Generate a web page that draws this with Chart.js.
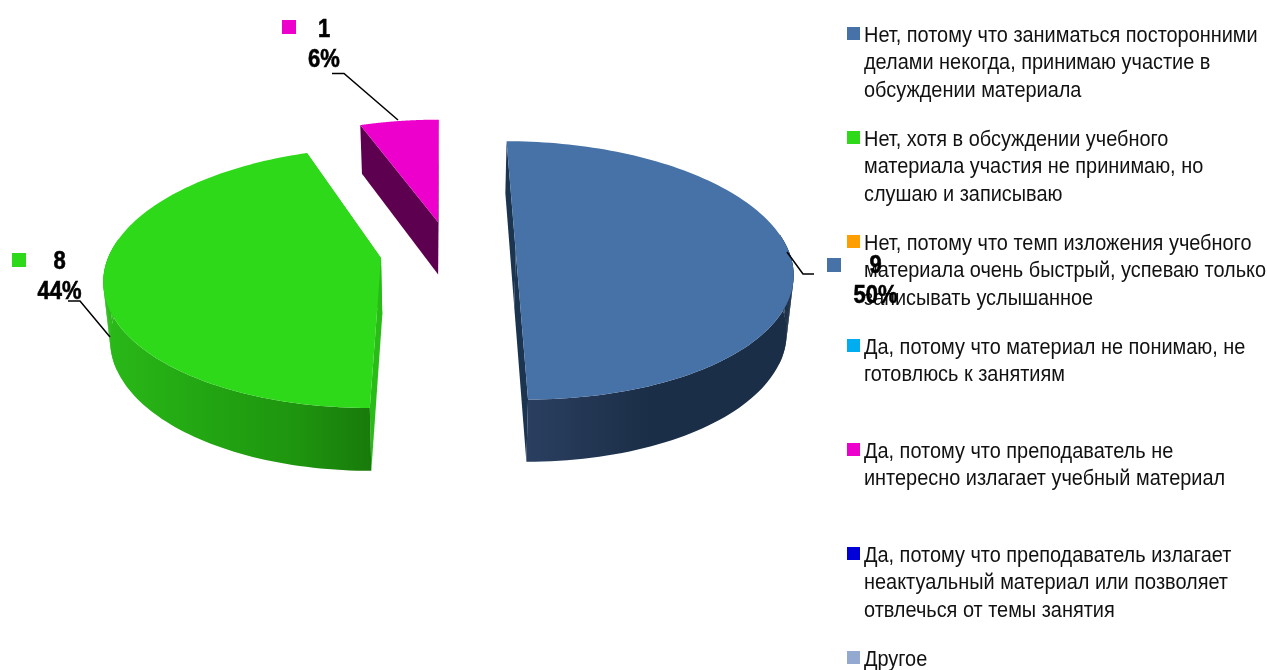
<!DOCTYPE html>
<html>
<head>
<meta charset="utf-8">
<style>
  body { margin: 0; background: #fff; }
  canvas { display: block; }
</style>
<script src="https://cdn.jsdelivr.net/npm/chart.js@4"></script>
</head>
<body>
<canvas id="chart" width="1267" height="670"></canvas>
<script>
// data
const categories = [
  ['Нет, потому что заниматься посторонними', 'делами некогда, принимаю участие в', 'обсуждении материала'],
  ['Нет, хотя в обсуждении учебного', 'материала участия не принимаю, но', 'слушаю и записываю'],
  ['Нет, потому что темп изложения учебного', 'материала очень быстрый, успеваю только', 'записывать услышанное'],
  ['Да, потому что материал не понимаю, не', 'готовлюсь к занятиям'],
  ['Да, потому что преподаватель не', 'интересно излагает учебный материал'],
  ['Да, потому что преподаватель излагает', 'неактуальный материал или позволяет', 'отвлечься от темы занятия'],
  ['Другое']
];
const values = [9, 8, 0, 0, 1, 0, 0];
const colors = ['#4672a8', '#2dd919', '#ff9e00', '#00aeef', '#ee00cc', '#0000d8', '#93a9cf'];

// --- pie projection, fitted by eye ---
const rx = 273, ry = 127.5, persp = -0.15, depth = 57, shrink = 0.98;
const vanishX = 445, vanishY = -600;
// exploded position of each visible slice and how the side faces are shaded
const sliceGeom = {
  0: { ax: 515.7, ay: 251, fx: 1, fy: 0.99, wall: '#1b3450', rim: [[528, '#2a3f60'], [650, '#1b2e47'], [790, '#1b2e47']] },
  1: { ax: 381, ay: 258, fx: 1, fy: 1, wall: '#29bb16', rim: [[108, '#2ab818'], [210, '#22a512'], [300, '#1e940f'], [371, '#187a0a']] },
  4: { ax: 438, ay: 222, fx: 0.96, fy: 0.923, wall: '#5e0050', rim: [[360, '#5e0050'], [438, '#5e0050']] }
};
const legendX = 847, legendTop = 27, legendStep = 104, lineH = 27.6;
const valueLabels = {
  0: { sq: [827, 258], x: 875.5, y: 266.5, line: [[787, 252], [803, 274], [814, 274]] },
  1: { sq: [12, 253], x: 59.5, y: 262, line: [[68, 301], [80, 301], [110, 337]] },
  4: { sq: [282, 20], x: 324, y: 30, line: [[332, 73.5], [344, 73.5], [398, 120]] }
};
const FONT = '"Liberation Sans", sans-serif';

// project an angle on the slice rim to the screen
function topPoint(g, t) {
  const u = Math.cos(t), v = Math.sin(t), w = 1 + persp * v;
  const k = (g.ax - vanishX) / (g.ay - vanishY);
  const dy = ry * v / w * g.fy;
  return [g.ax + rx * u / w * g.fx + k * dy, g.ay + dy, w];
}
function lower(p, w, g) {
  return [vanishX + (p[0] - vanishX) * shrink, p[1] + depth / Math.pow(w, 0.6) * g.fy];
}

function polygon(ctx, pts, fill) {
  ctx.beginPath();
  pts.forEach((p, i) => i ? ctx.lineTo(p[0], p[1]) : ctx.moveTo(p[0], p[1]));
  ctx.closePath();
  ctx.fillStyle = fill;
  ctx.fill();
}

function drawSlice(ctx, el, g) {
  const start = el.startAngle, end = el.endAngle;
  const apex = [g.ax, g.ay];
  const apexLow = lower(apex, 1, g);
  const steps = 120;
  const rimTop = [], rimLow = [];
  for (let i = 0; i <= steps; i++) {
    const t = start + (end - start) * i / steps;
    const p = topPoint(g, t);
    rimTop.push([p[0], p[1], Math.sin(t)]);
    rimLow.push(lower(p, p[2], g));
  }

  // cut faces
  polygon(ctx, [apex, rimTop[0], rimLow[0], apexLow], g.wall);
  polygon(ctx, [apex, rimTop[steps], rimLow[steps], apexLow], g.wall);

  // outer face, only the part turned to the viewer
  const front = [], back = [];
  for (let i = 0; i <= steps; i++) {
    if (rimTop[i][2] > -0.15) { front.push(rimTop[i]); back.unshift(rimLow[i]); }
  }
  if (front.length > 1) {
    const grad = ctx.createLinearGradient(g.rim[0][0], 0, g.rim[g.rim.length - 1][0], 0);
    const span = g.rim[g.rim.length - 1][0] - g.rim[0][0];
    g.rim.forEach(s => grad.addColorStop((s[0] - g.rim[0][0]) / span, s[1]));
    polygon(ctx, front.concat(back), grad);
    // fill the silhouette where the side runs from the top rim to the lower rim
    for (let i = 0; i < steps; i++) {
      const v = rimTop[i][2];
      if (v > -0.15 && v < 0.4) polygon(ctx, [rimTop[i], rimTop[i + 1], rimLow[i + 1], rimLow[i]], grad);
    }
  }

  // top face
  polygon(ctx, [apex].concat(rimTop), el.options.backgroundColor);
}

// the reference font is narrower than anything installed, so squeeze it
function narrowText(ctx, s, x, y, sx, heavy) {
  ctx.save();
  ctx.translate(x, y);
  ctx.scale(sx, 1);
  if (heavy) {
    ctx.strokeStyle = ctx.fillStyle;
    ctx.lineWidth = 0.6;
    ctx.strokeText(s, 0, 0);
  }
  ctx.fillText(s, 0, 0);
  ctx.restore();
}

const pie3d = {
  id: 'pie3d',
  beforeDatasetsDraw(chart) {
    const ctx = chart.ctx;
    const arcs = chart.getDatasetMeta(0).data;
    arcs.forEach((el, i) => {
      if (values[i] > 0) drawSlice(ctx, el, sliceGeom[i]);
    });
    return false;
  },
  afterDraw(chart) {
    const ctx = chart.ctx;
    const total = values.reduce((a, b) => a + b, 0);
    ctx.save();

    // legend
    ctx.textBaseline = 'middle';
    ctx.textAlign = 'left';
    ctx.font = '22px ' + FONT;
    categories.forEach((lines, i) => {
      const y = legendTop + legendStep * i;
      ctx.fillStyle = colors[i];
      ctx.fillRect(legendX, y, 13, 13);
      ctx.fillStyle = '#111';
      lines.forEach((s, n) => narrowText(ctx, s, legendX + 17, y + 8.5 + lineH * n, 0.905));
    });

    // value labels with leader lines
    Object.keys(valueLabels).forEach(key => {
      const l = valueLabels[key];
      ctx.fillStyle = colors[key];
      ctx.fillRect(l.sq[0], l.sq[1], 14, 14);
      ctx.fillStyle = '#000';
      ctx.textAlign = 'center';
      ctx.font = 'bold 25px ' + FONT;
      narrowText(ctx, String(values[key]), l.x, l.y, 0.88, true);
      narrowText(ctx, Math.round(values[key] / total * 100) + '%', l.x, l.y + 30, 0.88, true);
      ctx.beginPath();
      l.line.forEach((p, n) => n ? ctx.lineTo(p[0], p[1]) : ctx.moveTo(p[0], p[1]));
      ctx.strokeStyle = '#000';
      ctx.lineWidth = 1.5;
      ctx.stroke();
    });
    ctx.restore();
  }
};

new Chart(document.getElementById('chart'), {
  type: 'pie',
  data: {
    labels: categories.map(c => c.join(' ')),
    datasets: [{ data: values, backgroundColor: colors, borderWidth: 0 }]
  },
  options: {
    responsive: false,
    animation: false,
    plugins: { legend: { display: false }, tooltip: { enabled: false } }
  },
  plugins: [pie3d]
});
</script>
</body>
</html>
